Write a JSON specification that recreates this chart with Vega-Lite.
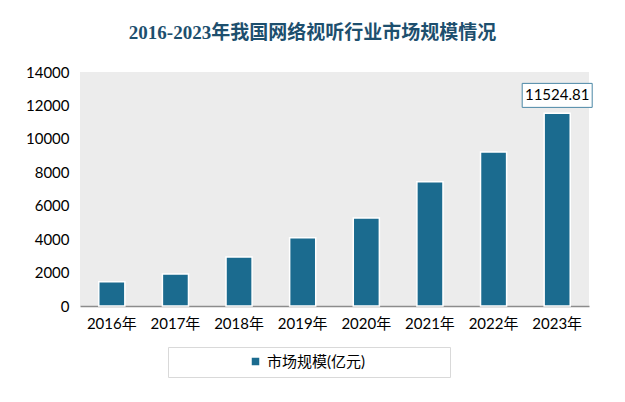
{
  "$schema": "https://vega.github.io/schema/vega-lite/v6.json",
  "width": 509,
  "height": 234,
  "autosize": "none",
  "padding": {"left": 80, "top": 72, "right": 36, "bottom": 96},
  "background": "white",
  "title": {
    "text": "2016-2023年我国网络视听行业市场规模情况",
    "fontSize": 19,
    "font": "Liberation Serif, Noto Sans CJK SC",
    "fontWeight": "bold",
    "color": "#1d4f6e",
    "anchor": "middle",
    "dx": -22,
    "offset": 22
  },
  "config": {
    "view": {"fill": "#ececec", "stroke": null},
    "font": "Lato, Noto Sans CJK SC"
  },
  "data": {
    "values": [
      {"year": "2016年", "value": 1455},
      {"year": "2017年", "value": 1915},
      {"year": "2018年", "value": 2932},
      {"year": "2019年", "value": 4086},
      {"year": "2020年", "value": 5265},
      {"year": "2021年", "value": 7437},
      {"year": "2022年", "value": 9214},
      {"year": "2023年", "value": 11524.81}
    ]
  },
  "encoding": {
    "x": {
      "field": "year",
      "type": "ordinal",
      "title": null,
      "scale": {"paddingInner": 0.59, "paddingOuter": 0.295},
      "axis": {
        "labelAngle": 0,
        "labelFontSize": 15,
        "labelColor": "#000000",
        "labelFont": "Lato, Noto Sans CJK SC",
        "labelPadding": 10,
        "ticks": false,
        "domainColor": "#8c8c8c",
        "domainWidth": 1.5
      }
    },
    "y": {
      "field": "value",
      "type": "quantitative",
      "title": null,
      "scale": {"domain": [0, 14000], "nice": false},
      "axis": {
        "values": [0, 2000, 4000, 6000, 8000, 10000, 12000, 14000],
        "format": "d",
        "labelFontSize": 15,
        "labelColor": "#000000",
        "labelFont": "Lato, Noto Sans CJK SC",
        "labelPadding": 11,
        "ticks": false,
        "domain": false,
        "grid": false
      }
    }
  },
  "layer": [
    {
      "mark": {"type": "bar", "stroke": "white", "strokeWidth": 1.5},
      "encoding": {
        "color": {
          "datum": "市场规模(亿元)",
          "scale": {"range": ["#1b6b8f"]},
          "legend": {
            "orient": "none",
            "legendX": 88,
            "legendY": 275,
            "title": null,
            "symbolType": "square",
            "symbolSize": 81,
            "symbolOffset": 73,
            "labelFontSize": 15,
            "labelLimit": 400,
            "labelColor": "#000000",
            "labelFont": "Lato, Noto Sans CJK SC",
            "padding": 7,
            "strokeColor": "#d9d9d9",
            "fillColor": "white",
            "labelExpr": "datum.label + '\u2800\u2800\u2800\u2800\u2800\u2800\u2800'"
          }
        }
      }
    },
    {
      "transform": [{"filter": "datum.year == '2023年'"}],
      "mark": {
        "type": "point",
        "shape": "M-1,-0.857H1V-0.171H-1Z",
        "size": 4900,
        "filled": true,
        "fill": "white",
        "stroke": "#4a87a6",
        "strokeWidth": 1,
        "opacity": 1
      }
    },
    {
      "transform": [{"filter": "datum.year == '2023年'"}],
      "mark": {"type": "text", "dy": -18, "fontSize": 15, "color": "#000000", "baseline": "middle", "font": "Lato, Noto Sans CJK SC"},
      "encoding": {
        "text": {"field": "value", "type": "quantitative", "format": ".2f"}
      }
    }
  ]
}
